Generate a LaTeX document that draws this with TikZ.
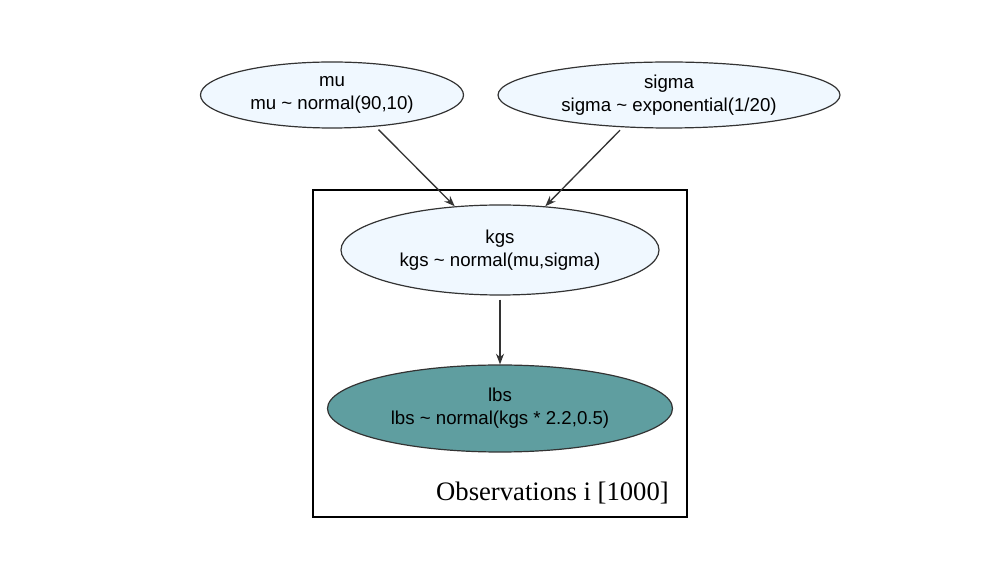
\documentclass[tikz,border=0pt]{standalone}
\usepackage{fontspec}
\setmainfont{Liberation Serif}
\newfontfamily\graphsans{Liberation Sans}
\usepackage{tikz}
\usetikzlibrary{shapes.geometric,arrows.meta}
\definecolor{latentfill}{HTML}{F0F8FF}
\definecolor{obsfill}{HTML}{5F9EA0}
\definecolor{edgegray}{HTML}{333333}

\begin{document}
\begin{tikzpicture}[x=0.75pt,y=-0.75pt,
    varnode/.style={ellipse,draw=edgegray,line width=0.9pt,inner sep=0pt,
      align=center,font=\graphsans\fontsize{14}{17}\selectfont},
    latent/.style={varnode,fill=latentfill},
    observed/.style={varnode,fill=obsfill},
    edge/.style={draw=edgegray,line width=1pt,shorten <=3pt,-{Stealth[length=8pt,width=6pt]}}]
    \useasboundingbox (0,0) rectangle (1000,580);
    \node[draw=black,line width=1pt,minimum width=280.5pt,minimum height=245.25pt,inner sep=0pt] (plate) at (500,353.5) {};
    \node[latent,minimum width=197.25pt,minimum height=49.5pt] (mu) at (332,95) {mu\\mu \textasciitilde{} normal(90,10)};
    \node[latent,minimum width=256.5pt,minimum height=49.5pt] (sigma) at (669,95) {sigma\\sigma \textasciitilde{} exponential(1/20)};
    \node[latent,minimum width=238.5pt,minimum height=67.5pt] (kgs) at (500,250) {kgs\\kgs \textasciitilde{} normal(mu,sigma)};
    \node[observed,minimum width=258.75pt,minimum height=65.25pt] (lbs) at (500,408.5) {lbs\\lbs \textasciitilde{} normal(kgs * 2.2,0.5)};
    \node[anchor=base east,inner sep=0pt,font=\fontsize{20}{24}\selectfont] (platelabel) at (669,501) {Observations i [1000]};
    \draw[edge] (mu.-36) -- (kgs.136);
    \draw[edge] (sigma.-145) -- (kgs.44);
    \draw[edge] (kgs.south) -- (lbs.north);
\end{tikzpicture}
\end{document}
